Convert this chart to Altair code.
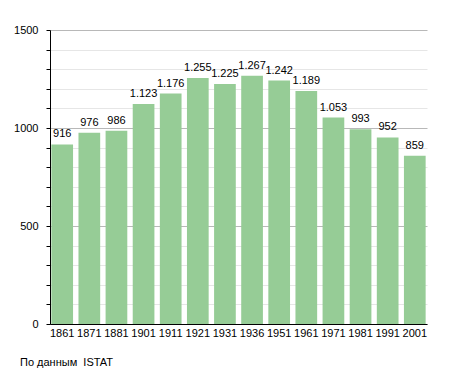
import altair as alt
import pandas as pd

years = ["1861", "1871", "1881", "1901", "1911", "1921", "1931", "1936", "1951", "1961", "1971", "1981", "1991", "2001"]
population = [916, 976, 986, 1123, 1176, 1255, 1225, 1267, 1242, 1189, 1053, 993, 952, 859]
y_ticks = list(range(0, 1600, 100))
source_note = ["По данным\u00a0 ISTAT"]

labels = [f"{v:,}".replace(",", ".") for v in population]
df = pd.DataFrame({"year": years, "pop": population, "label": labels})
note_df = pd.DataFrame({"t": source_note})

FONT = "Liberation Sans"

x = alt.X("year:N", sort=years, title=None,
          scale=alt.Scale(paddingInner=0.2, paddingOuter=0.05),
          axis=alt.Axis(labelAngle=0, ticks=False, domainColor="black",
                        labelColor="black", labelFontSize=11, labelFont=FONT,
                        labelPadding=3, grid=False))
y = alt.Y("pop:Q", title=None, scale=alt.Scale(domain=[0, 1500], nice=False),
          axis=alt.Axis(values=y_ticks,
                        labelExpr="datum.value % 500 == 0 ? datum.label : ''",
                        labelOverlap=False,
                        labelFlush=False,
                        grid=True,
                        gridColor={"condition": {"test": "datum.value % 500 === 0", "value": "#b8b8b8"},
                                   "value": "#e6e6e6"},
                        domainColor="black",
                        tickColor="black", tickSize=4, labelColor="black",
                        labelFontSize=11, labelFont=FONT, labelPadding=8,
                        format="d"))

bars = alt.Chart(df).mark_bar(color="#96cc96").encode(x=x, y=y)
text = alt.Chart(df).mark_text(dy=-5, fontSize=11, font=FONT, color="black",
                               baseline="bottom").encode(
    x=x, y=y, text="label:N")
note = alt.Chart(note_df).mark_text(align="left", baseline="middle", fontSize=11,
                                    font=FONT, color="black").encode(
    x=alt.value(-30), y=alt.value(333), text="t:N")

chart = alt.layer(bars, text, note).properties(
    width=377, height=294,
    autosize=alt.AutoSizeParams(type="none"),
    padding={"left": 42, "top": 22, "right": 20, "bottom": 51},
).configure_view(stroke=None)

chart.save("out.html", embed_options={"renderer": "svg", "actions": False})
